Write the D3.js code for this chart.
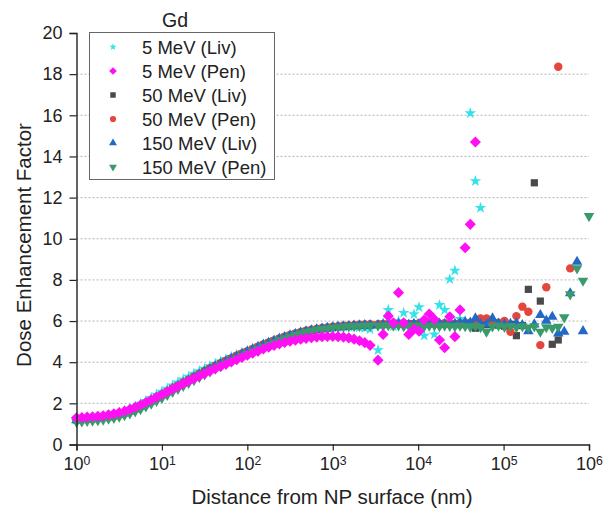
<!DOCTYPE html>
<html>
<head>
<meta charset="utf-8">
<script src="https://cdn.jsdelivr.net/npm/d3@7"></script>
<style>
  body { margin: 0; background: #fff; }
  svg { font-family: "Liberation Sans", Arial, sans-serif; }
</style>
</head>
<body>
<svg id="chart" width="606" height="510"></svg>
<script>
// distance from NP surface (nm)
const dist = [1, 1.155, 1.334, 1.54, 1.778, 2.054, 2.371, 2.738, 3.162, 3.652, 4.217, 4.87, 5.623, 6.494, 7.499, 8.66,
  10, 11.55, 13.34, 15.4, 17.78, 20.54, 23.71, 27.38, 31.62, 36.52, 42.17, 48.7, 56.23, 64.94, 74.99, 86.6,
  100, 115.5, 133.4, 154, 177.8, 205.4, 237.1, 273.8, 316.2, 365.2, 421.7, 487, 562.3, 649.4, 749.9, 866,
  1000, 1155, 1334, 1540, 1778, 2054, 2371, 2738,
  3388, 3890, 4467, 5129, 5888, 6761, 7762, 8913, 10230, 11750, 13490, 15490, 17780, 20420, 23440, 26920, 30900, 35480, 40740, 46770, 53700,
  63100, 74130, 87100, 102300, 120200, 141300, 166000, 195000, 229100, 269200, 316200, 371500, 436500, 512900, 602600, 724400, 851100, 1000000];

const labels = ["5 MeV (Liv)", "5 MeV (Pen)", "50 MeV (Liv)", "50 MeV (Pen)", "150 MeV (Liv)", "150 MeV (Pen)"];

const y5Liv = [1.22,1.24,1.26,1.29,1.32,1.36,1.41,1.47,1.54,1.63,1.73,1.85,1.98,2.12,2.27,2.42,
  2.57,2.72,2.87,3.02,3.16,3.30,3.44,3.57,3.69,3.81,3.93,4.04,4.15,4.26,4.36,4.46,
  4.56,4.66,4.76,4.86,4.95,5.04,5.13,5.21,5.29,5.36,5.43,5.49,5.54,5.58,5.62,5.65,
  5.68,5.70,5.72,5.73,5.72,5.70,5.66,5.60,
  4.59,5.90,6.54,5.75,6.00,6.40,5.80,6.33,6.67,5.29,5.90,5.35,6.78,6.54,8.03,8.45,6.10,6.00,16.1,12.8,11.5,
  null,null,null,null,null,null,null,null,null,null,null,null,null,null,null,null,null,null];

const y5Pen = [1.30,1.31,1.33,1.35,1.37,1.40,1.44,1.49,1.55,1.62,1.71,1.81,1.92,2.04,2.17,2.30,
  2.43,2.56,2.69,2.82,2.95,3.08,3.20,3.32,3.44,3.56,3.68,3.79,3.90,4.01,4.12,4.23,
  4.34,4.44,4.54,4.64,4.73,4.81,4.89,4.96,5.02,5.07,5.12,5.16,5.19,5.22,5.24,5.25,
  5.25,5.24,5.22,5.18,5.12,5.04,4.95,4.82,
  4.10,5.35,6.24,5.92,7.38,5.92,5.35,5.60,5.51,6.05,6.34,6.08,5.08,4.70,6.21,5.24,6.54,9.56,10.7,14.7,null,
  null,null,null,null,null,null,null,null,null,null,null,null,null,null,null,null,null,null];

const y50Liv = [1.20,1.22,1.24,1.26,1.28,1.31,1.35,1.40,1.46,1.54,1.63,1.74,1.86,1.99,2.13,2.27,
  2.41,2.56,2.71,2.85,2.99,3.13,3.27,3.41,3.55,3.68,3.81,3.93,4.05,4.17,4.29,4.40,
  4.51,4.62,4.73,4.84,4.94,5.04,5.13,5.22,5.30,5.37,5.44,5.50,5.55,5.59,5.63,5.66,
  5.69,5.72,5.74,5.76,5.78,5.79,5.80,5.81,
  5.82,5.84,5.83,5.85,5.86,5.84,5.87,5.85,5.86,5.84,5.88,5.86,5.85,5.87,5.84,5.86,5.83,5.85,5.88,5.65,5.80,
  5.82,5.86,5.80,5.75,5.84,5.29,5.78,7.54,12.72,6.97,null,4.87,5.08,null,null,null,null,null];

const y50Pen = [1.21,1.23,1.25,1.27,1.29,1.32,1.36,1.41,1.47,1.55,1.64,1.75,1.87,2.00,2.14,2.28,
  2.42,2.57,2.72,2.86,3.00,3.14,3.28,3.42,3.56,3.69,3.82,3.95,4.07,4.19,4.31,4.42,
  4.53,4.64,4.75,4.86,4.96,5.06,5.15,5.24,5.32,5.40,5.47,5.53,5.58,5.62,5.66,5.69,
  5.72,5.75,5.77,5.79,5.81,5.82,5.83,5.84,
  5.84,5.86,5.85,5.87,5.85,5.88,5.86,5.84,5.89,5.87,5.85,5.88,5.86,5.90,5.87,5.85,5.90,5.88,5.92,5.95,6.13,
  6.13,5.88,5.92,6.00,5.48,6.24,6.70,6.45,null,4.83,7.64,null,18.36,null,8.56,null,null,null];

const y150Liv = [1.18,1.20,1.22,1.24,1.26,1.29,1.33,1.38,1.44,1.52,1.61,1.72,1.84,1.97,2.11,2.25,
  2.40,2.55,2.70,2.84,2.98,3.12,3.26,3.40,3.54,3.67,3.80,3.92,4.04,4.16,4.28,4.40,
  4.51,4.62,4.73,4.84,4.94,5.04,5.13,5.22,5.30,5.37,5.44,5.50,5.55,5.60,5.64,5.67,
  5.70,5.72,5.74,5.76,5.78,5.79,5.80,5.80,
  5.80,5.82,5.85,5.83,5.86,5.84,5.82,5.87,5.85,5.83,5.86,5.84,5.88,5.85,5.83,5.87,5.90,5.95,5.92,6.13,5.85,
  5.85,6.13,5.88,5.84,5.86,5.90,5.80,5.51,5.84,6.29,6.02,6.21,5.40,5.48,7.35,8.88,5.51,null];

const y150Pen = [1.10,1.12,1.14,1.16,1.18,1.21,1.25,1.29,1.35,1.42,1.51,1.61,1.72,1.85,1.98,2.12,
  2.26,2.41,2.56,2.70,2.85,2.99,3.13,3.27,3.41,3.55,3.68,3.81,3.93,4.05,4.17,4.29,
  4.41,4.53,4.64,4.75,4.86,4.96,5.06,5.15,5.24,5.32,5.39,5.46,5.52,5.57,5.61,5.64,
  5.67,5.70,5.72,5.74,5.75,5.76,5.77,5.78,
  5.78,5.76,5.80,5.77,5.79,5.75,5.78,5.76,5.80,5.74,5.77,5.79,5.75,5.78,5.76,5.74,5.78,5.75,5.72,5.76,5.70,
  5.48,5.74,5.78,5.72,5.76,5.70,5.75,5.68,5.74,5.48,5.70,5.66,5.72,6.18,7.30,8.56,7.96,11.1];

const yTicks = [0, 2, 4, 6, 8, 10, 12, 14, 16, 18, 20];
const yMinor = [1, 3, 5, 7, 9, 11, 13, 15, 17, 19];
const gridTicks = [2, 4, 6, 8, 10, 12, 14, 16, 18];
const xTicks = [1, 10, 100, 1000, 10000, 100000, 1000000];

const series = [
  { name: labels[0], values: y5Liv, color: "#36e2ea", type: d3.symbolStar, size: 42, leg: 17, rot: 0 },
  { name: labels[1], values: y5Pen, color: "#ff10f4", type: d3.symbolSquare, size: 62, leg: 30, rot: 45 },
  { name: labels[2], values: y50Liv, color: "#4a4a4a", type: d3.symbolSquare, size: 52, leg: 30, rot: 0 },
  { name: labels[3], values: y50Pen, color: "#e2463c", type: d3.symbolCircle, size: 56, leg: 30, rot: 0 },
  { name: labels[4], values: y150Liv, color: "#2268c6", type: d3.symbolTriangle, size: 48, leg: 27, rot: 0 },
  { name: labels[5], values: y150Pen, color: "#3a9a6c", type: d3.symbolTriangle, size: 48, leg: 27, rot: 180 }
];
// drawing order, last on top
const drawOrder = [0, 2, 3, 4, 5, 1];

const svg = d3.select("#chart");
const x = d3.scaleLog().domain([1, 1e6]).range([76.5, 589]);
const y = d3.scaleLinear().domain([0, 20]).range([444.5, 33]);

// grid
svg.append("g").selectAll("line")
  .data(gridTicks).enter().append("line")
  .attr("x1", x(1)).attr("x2", x(1e6))
  .attr("y1", d => y(d)).attr("y2", d => y(d))
  .attr("stroke", "#b5b5b5").attr("stroke-width", 1)
  .attr("stroke-dasharray", "2,2");

// markers
drawOrder.forEach(si => {
  const s = series[si];
  const pts = dist.map((d, i) => [d, s.values[i]]).filter(p => p[1] != null);
  svg.append("g").selectAll("path")
    .data(pts).enter().append("path")
    .attr("d", d3.symbol().type(s.type).size(s.size))
    .attr("transform", d => "translate(" + x(d[0]) + "," + y(d[1]) + ") rotate(" + s.rot + ")")
    .attr("fill", s.color);
});

// axes
const xMinor = [];
for (let e = 0; e < 6; e++) for (let m = 2; m <= 9; m++) xMinor.push(m * Math.pow(10, e));

const gx = svg.append("g").attr("transform", "translate(0," + y(0) + ")");
gx.call(d3.axisBottom(x).tickValues(xMinor).tickSize(4).tickFormat(""));
gx.call(d3.axisBottom(x).tickValues(xTicks).tickSize(6).tickPadding(7));
gx.selectAll(".tick text").each(function (d) {
  const t = d3.select(this).text(null);
  t.append("tspan").text("10");
  t.append("tspan").attr("dy", "-0.45em").attr("font-size", "0.68em").text(Math.round(Math.log10(d)));
});

const gy = svg.append("g").attr("transform", "translate(" + x(1) + ",0)");
gy.call(d3.axisLeft(y).tickValues(yMinor).tickSize(4).tickFormat(""));
gy.call(d3.axisLeft(y).tickValues(yTicks).tickSize(7).tickPadding(7));

svg.selectAll(".domain").attr("stroke", "#222").attr("stroke-width", 1.4);
svg.selectAll(".tick line").attr("stroke", "#222").attr("stroke-width", 1.2);
svg.selectAll(".tick text").attr("font-size", 18).attr("fill", "#222")
  .attr("font-family", "Liberation Sans, Arial, sans-serif");

// axis titles
svg.append("text")
  .attr("x", 332).attr("y", 504)
  .attr("text-anchor", "middle")
  .attr("font-size", 20.5).attr("fill", "#222")
  .text("Distance from NP surface (nm)");

svg.append("text")
  .attr("transform", "translate(31,245) rotate(-90)")
  .attr("text-anchor", "middle")
  .attr("font-size", 20.5).attr("fill", "#222")
  .text("Dose Enhancement Factor");

// legend
svg.append("text")
  .attr("x", 175).attr("y", 27)
  .attr("text-anchor", "middle")
  .attr("font-size", 19.5).attr("fill", "#222")
  .text("Gd");

svg.append("rect")
  .attr("x", 89.5).attr("y", 32.5).attr("width", 185).attr("height", 147)
  .attr("fill", "#fff").attr("stroke", "#666").attr("stroke-width", 1);

const leg = svg.append("g").selectAll("g")
  .data(series).enter().append("g")
  .attr("transform", (d, i) => "translate(0," + (47 + i * 24) + ")");

leg.append("path")
  .attr("d", d => d3.symbol().type(d.type).size(d.leg)())
  .attr("transform", d => "translate(113,0) rotate(" + d.rot + ")")
  .attr("fill", d => d.color);

leg.append("text")
  .attr("x", 142).attr("y", 6.5)
  .attr("font-size", 18.5).attr("fill", "#222")
  .text(d => d.name);
</script>
</body>
</html>
